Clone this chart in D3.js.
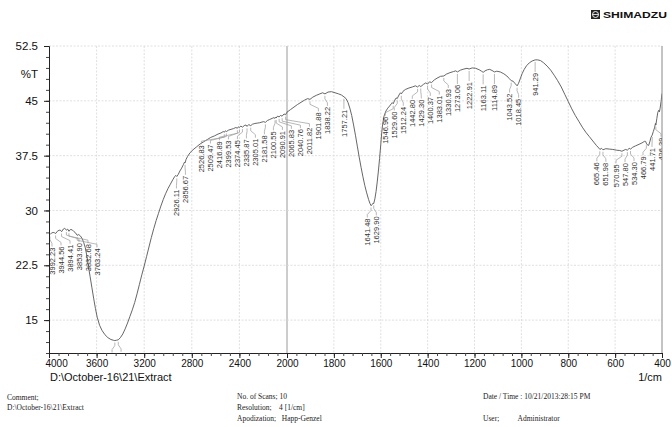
<!DOCTYPE html>
<html><head><meta charset="utf-8">
<script src="https://cdn.jsdelivr.net/npm/d3@7"></script>
<style>body{margin:0;background:#fff} svg{display:block}</style>
</head><body>
<svg id="c" width="672" height="427"></svg>
<script>
// ---------- DATA ----------
const wavenumbers = [4000,3992,3980,3965,3955,3944,3930,3915,3905,3894,3880,3868,3860,3853,3843,3832,3820,3805,3790,3775,3763,3750,3735,3720,3708,3695,3682,3668,3655,3640,3625,3610,3595,3575,3555,3530,3505,3480,3460,3447,3432,3418,3400,3380,3360,3340,3320,3300,3280,3260,3240,3220,3200,3180,3160,3140,3120,3100,3080,3060,3040,3020,3000,2980,2960,2945,2935,2926,2915,2900,2885,2870,2862,2857,2848,2835,2815,2790,2760,2730,2700,2670,2640,2610,2580,2555,2535,2527,2518,2509,2490,2470,2450,2430,2417,2408,2400,2388,2374,2360,2345,2336,2322,2305,2290,2270,2250,2230,2210,2195,2182,2165,2145,2125,2110,2101,2095,2091,2080,2066,2055,2041,2025,2012,2000,1985,1970,1955,1940,1925,1912,1902,1890,1875,1860,1848,1838,1825,1810,1795,1780,1768,1757,1748,1740,1732,1724,1716,1708,1700,1692,1684,1676,1668,1660,1652,1646,1641,1636,1633,1630,1625,1620,1615,1610,1605,1600,1596,1592,1586,1578,1570,1562,1555,1551,1547,1540,1534,1530,1522,1516,1512,1505,1495,1480,1465,1452,1443,1436,1429,1418,1408,1400,1392,1383,1372,1360,1345,1331,1320,1305,1290,1280,1273,1260,1245,1232,1223,1210,1195,1180,1170,1163,1155,1145,1135,1125,1115,1105,1090,1075,1062,1052,1043,1036,1028,1018,1012,1005,997,988,978,966,954,941,930,918,905,890,875,860,845,830,815,800,785,770,755,740,725,710,695,680,670,665,658,652,640,625,610,595,580,571,562,555,548,540,534,525,512,498,485,475,470,467,462,457,452,447,442,437,432,428,426,422,418,414,411,408,404,400];
const transmittance = [26.8,26.7,26.9,27.0,26.95,26.85,27.15,27.3,27.3,27.1,27.45,27.55,27.45,27.3,27.45,27.15,27.4,27.35,27.1,26.9,26.6,26.7,26.5,26.1,25.6,24.9,23.8,22.3,21.0,19.5,18.0,16.6,15.4,14.3,13.6,13.0,12.6,12.35,12.25,12.2,12.25,12.3,12.6,13.1,13.8,14.6,15.5,16.4,17.4,18.6,19.9,21.2,22.4,23.7,25.0,26.3,27.5,28.6,29.6,30.6,31.5,32.3,33.0,33.6,34.2,34.6,34.8,34.65,34.9,35.4,35.8,36.3,36.6,36.5,37.0,37.4,37.9,38.3,38.7,39.1,39.4,39.7,40.0,40.2,40.45,40.6,40.8,40.7,40.9,40.8,41.0,41.1,41.2,41.35,41.25,41.45,41.35,41.55,41.4,41.6,41.7,41.5,41.75,41.6,41.8,41.9,41.95,42.0,42.1,42.15,42.05,42.3,42.45,42.6,42.7,42.6,42.75,42.65,42.9,42.8,43.0,42.9,43.2,43.1,43.45,43.8,44.15,44.5,44.8,45.1,45.3,45.2,45.5,45.75,45.95,46.1,45.95,46.2,46.25,46.1,45.95,45.8,45.55,45.3,44.8,44.0,43.0,41.7,40.3,38.8,37.3,35.9,34.6,33.4,32.4,31.5,30.95,30.65,30.85,31.0,30.95,31.6,32.6,33.9,35.4,37.1,39.0,40.6,41.8,42.9,43.6,44.0,44.3,44.6,44.75,44.6,45.1,45.4,45.3,45.8,46.1,45.95,46.3,46.55,46.75,46.9,47.05,46.9,47.1,46.95,47.25,47.45,47.3,47.6,47.5,47.85,48.1,48.35,48.4,48.65,48.85,49.0,49.1,48.95,49.2,49.35,49.45,49.35,49.5,49.45,49.25,49.05,48.9,49.1,49.25,49.3,49.15,48.95,49.05,48.95,48.7,48.4,48.05,47.75,47.7,47.4,47.05,47.4,48.0,48.7,49.3,49.8,50.2,50.45,50.6,50.6,50.5,50.2,49.75,49.2,48.5,47.75,46.9,45.9,44.9,43.9,43.0,42.2,41.4,40.7,40.1,39.5,38.9,38.55,38.35,38.5,38.3,38.45,38.4,38.35,38.25,38.2,38.1,38.25,38.35,38.25,38.5,38.4,38.65,38.85,39.05,39.25,39.45,39.45,39.2,38.95,38.9,39.4,40.0,40.3,40.8,41.3,41.9,41.7,42.6,43.4,43.7,43.5,44.0,44.9,46.0];
const peakLabels = ["3992.23","3944.56","3894.41","3853.90","3832.68","3763.24","3446.79","3417.86","2926.11","2856.67","2526.83","2509.47","2416.89","2399.53","2374.45","2335.87","2305.01","2181.58","2100.55","2090.91","2065.83","2040.76","2011.82","1901.88","1838.22","1757.21","1641.48","1629.90","1546.96","1529.60","1512.24","1442.80","1429.30","1400.37","1383.01","1330.93","1273.06","1222.91","1163.11","1114.89","1043.52","1018.45","941.29","665.46","651.98","570.95","547.80","534.30","466.79","441.71","426.39"];
const xTickLabels = [4000,3600,3200,2800,2400,2000,1800,1600,1400,1200,1000,800,600,400];
const yTickLabels = [15,22.5,30,37.5,45,52.5];
const yUnit = "%T";
const xUnit = "1/cm";
const fileName = "D:\\October-16\\21\\Extract";
const footerLeft = ["Comment;", "D:\\October-16\\21\\Extract"];
const footerMid = ["No. of Scans; 10", "Resolution;    4 [1/cm]", "Apodization;   Happ-Genzel"];
const footerRight = ["Date / Time : 10/21/2013:28:15 PM", "User;          Administrator"];

// ---------- LAYOUT ----------
const L = 49, R = 662, T = 46, B = 353;
const svg = d3.select("#c");
const x = d3.scaleLinear().domain([4000, 2000, 400]).range([L, 287, R]);
const y = d3.scaleLinear().domain([10.5, 52.5]).range([B, T]);
const sans = "Liberation Sans, Arial, sans-serif";

svg.append("defs").append("clipPath").attr("id","clip")
  .append("rect").attr("x",L).attr("y",T-2).attr("width",R-L).attr("height",B-T+2);

// grid
const grid = svg.append("g");
xTickLabels.forEach(v => {
  if (v === 4000 || v === 400) return;
  grid.append("line").attr("x1",x(v)).attr("x2",x(v)).attr("y1",T).attr("y2",B)
    .attr("stroke", v===2000 ? "#9a9a9a" : "#d8d8d8")
    .attr("stroke-width", v===2000 ? 1 : 0.8)
    .attr("stroke-dasharray", v===2000 ? null : "2,1.5");
});
yTickLabels.forEach(v => {
  grid.append("line").attr("x1",L).attr("x2",R).attr("y1",y(v)).attr("y2",y(v))
    .attr("stroke","#d8d8d8").attr("stroke-width",0.8).attr("stroke-dasharray","2,1.5");
});

// curve
const data = wavenumbers.map((w,i)=>({w, t: transmittance[i]}));
const plot = svg.append("g").attr("clip-path","url(#clip)");
plot.append("path").datum(data)
  .attr("fill","none").attr("stroke","#555").attr("stroke-width",0.9)
  .attr("d", d3.line().x(d=>x(d.w)).y(d=>y(d.t)));

// peak labels layout
const bis = d3.bisector(d=>-d.w).left;
function tAt(w){
  const i = Math.max(1, Math.min(data.length-1, bis(data, -w)));
  const a = data[i-1], b = data[i];
  const f = (w - a.w)/(b.w - a.w);
  return a.t + f*(b.t - a.t);
}
const gap = 9;
const peaks = peakLabels.map(s => {
  const w = +s; const px = x(w); const py = y(tAt(w));
  return {s, w, px, py, lx: px};
}).sort((a,b)=>a.px-b.px);
let clusters = [];
peaks.forEach(p => {
  clusters.push({items:[p], start:p.px});
  while (clusters.length > 1) {
    const c2 = clusters[clusters.length-1], c1 = clusters[clusters.length-2];
    if (c1.start + c1.items.length*gap > c2.start) {
      const items = c1.items.concat(c2.items);
      let st = d3.mean(items, (it,i)=> it.px - i*gap);
      st = Math.max(L+3, Math.min(R - 1 - (items.length-1)*gap, st));
      clusters.splice(clusters.length-2, 2, {items, start: st});
    } else break;
  }
  const c = clusters[clusters.length-1];
  c.start = Math.max(L+3, c.start);
});
clusters.forEach(c => c.items.forEach((it,i)=> it.lx = c.start + i*gap));

const lab = plot.append("g");
peaks.forEach(p => {
  const yt = p.py + 13;
  lab.append("polyline")
    .attr("points", [[p.px,p.py+2],[p.px,p.py+5],[p.lx,yt-4],[p.lx,yt-1]].map(q=>q.join(",")).join(" "))
    .attr("fill","none").attr("stroke","#999").attr("stroke-width",0.7);
  lab.append("text")
    .attr("transform",`translate(${p.lx},${yt}) rotate(-90)`)
    .attr("text-anchor","end").attr("dy","0.35em")
    .attr("font-family",sans).attr("font-size",7.5)
    .attr("fill","#333").text(p.s);
});

// axes
const xMinor = d3.range(4000, 2000, -80).concat(d3.range(2000, 399, -40));
const yMinor = d3.range(10.5, 52.6, 1.5);
svg.append("g").attr("transform",`translate(0,${B})`)
  .call(d3.axisBottom(x).tickValues(xMinor).tickSize(3).tickFormat(""))
  .call(g=>{g.select(".domain").attr("stroke","#222"); g.selectAll("line").attr("stroke","#444");});
svg.append("g").attr("transform",`translate(0,${B})`)
  .call(d3.axisBottom(x).tickValues(xTickLabels).tickSize(5).tickPadding(2).tickFormat(d3.format("d")))
  .call(g=>{g.select(".domain").remove(); g.selectAll("line").attr("stroke","#222");
    g.selectAll("text").attr("font-family",sans).attr("font-size",10).attr("fill","#111");
    g.selectAll(".tick").filter(d=>d===4000).select("text").attr("text-anchor","start").attr("dx",-4);});
svg.append("g").attr("transform",`translate(${L},0)`)
  .call(d3.axisLeft(y).tickValues(yMinor).tickSize(3).tickFormat(""))
  .call(g=>{g.select(".domain").attr("stroke","#222"); g.selectAll("line").attr("stroke","#444");});
svg.append("g").attr("transform",`translate(${L},0)`)
  .call(d3.axisLeft(y).tickValues(yTickLabels).tickSize(5).tickPadding(6).tickFormat(d=>String(d)))
  .call(g=>{g.select(".domain").remove(); g.selectAll("line").attr("stroke","#222");
    g.selectAll("text").attr("font-family",sans).attr("font-size",11.5).attr("fill","#111");});
svg.append("line").attr("x1",R).attr("x2",R).attr("y1",T).attr("y2",B).attr("stroke","#888").attr("stroke-width",1);

// unit labels
svg.append("text").attr("x",38).attr("y",78).attr("text-anchor","end").attr("font-family",sans).attr("font-size",11.5).attr("fill","#111").text(yUnit);
svg.append("text").attr("x",L+1).attr("y",381).attr("font-family",sans).attr("font-size",11).attr("fill","#111").text(fileName);
svg.append("text").attr("x",R).attr("y",381).attr("text-anchor","end").attr("font-family",sans).attr("font-size",11).attr("fill","#111").text(xUnit);

// footer
const serif = "Liberation Serif, Times New Roman, serif";
const ft = (s,xx,yy)=>svg.append("text").attr("x",xx).attr("y",yy).attr("font-family",serif).attr("font-size",7.5).attr("fill","#222").attr("xml:space","preserve").style("white-space","pre").text(s);
ft(footerLeft[0],7,400); ft(footerLeft[1],7,410);
ft(footerMid[0],237,399); ft(footerMid[1],237,410); ft(footerMid[2],237,421);
ft(footerRight[0],483,399); ft(footerRight[1],483,421);

// logo
const logo = svg.append("g");
logo.append("rect").attr("x",591).attr("y",10).attr("width",9).attr("height",9).attr("fill","#222");
logo.append("circle").attr("cx",595.5).attr("cy",14.5).attr("r",3).attr("fill","none").attr("stroke","#fff").attr("stroke-width",0.9);
logo.append("line").attr("x1",592.5).attr("x2",598.5).attr("y1",14.5).attr("y2",14.5).attr("stroke","#fff").attr("stroke-width",0.8);
logo.append("text").attr("x",603).attr("y",18).attr("font-family",sans).attr("font-weight","bold")
  .attr("font-size",8.5).attr("textLength",64).attr("lengthAdjust","spacingAndGlyphs").attr("fill","#111").text("SHIMADZU");
</script>
</body></html>
